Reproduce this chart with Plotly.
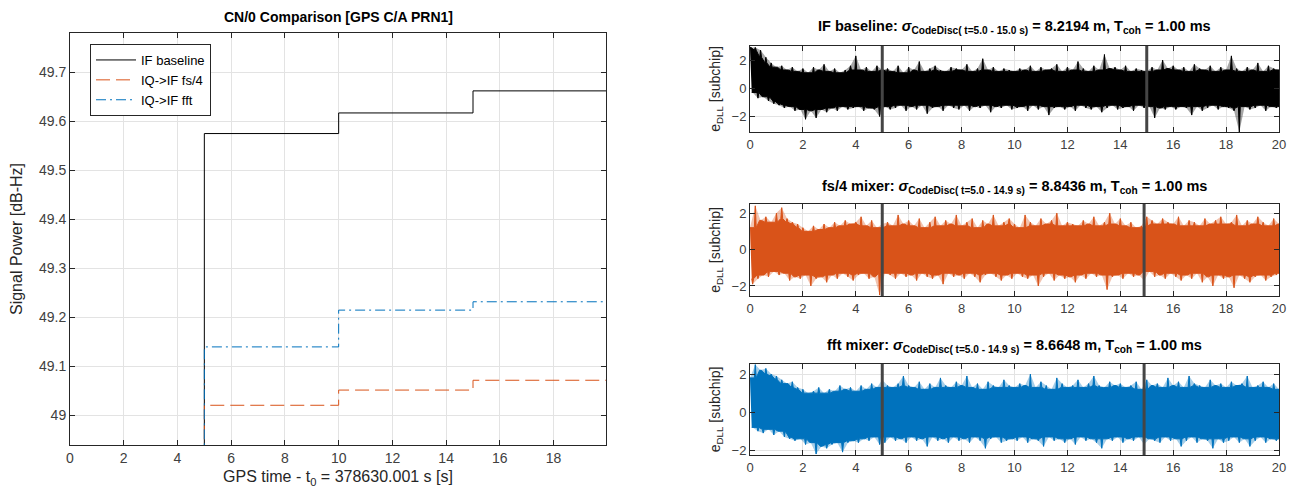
import numpy as np
import plotly.graph_objects as go

FONT = "Liberation Sans, Arial, Helvetica, sans-serif"

# ---------------- CN/0 comparison (left panel) ----------------
cn0_time = [0, 5, 10, 15, 20]
cn0_if_baseline = [0.0, 49.575, 49.617, 49.662, 49.662]
cn0_iq_fs4 = [0.0, 49.021, 49.052, 49.072, 49.072]
cn0_iq_fft = [0.0, 49.140, 49.215, 49.232, 49.232]
cn0_ticks = [49, 49.1, 49.2, 49.3, 49.4, 49.5, 49.6, 49.7]
cn0_ticktext = ["49", "49.1", "49.2", "49.3", "49.4", "49.5", "49.6", "49.7"]

# ---------------- DLL error envelopes (right panels), 0.2 s grid ----------------
dll_time = np.round(np.arange(101) * 0.2, 1)

if_upper = [2.9, 2.9, 2.7, 2.2, 1.8, 1.5, 1.6, 1.3, 1.5, 1.2,
            1.4, 1.1, 1.5, 1.3, 1.7, 1.2, 1.4, 1.1, 1.3, 1.6,
            2.3, 1.3, 1.5, 1.2, 1.6, 1.3, 1.4, 1.2, 1.6, 1.1,
            1.5, 1.3, 1.9, 1.2, 1.4, 1.6, 1.3, 1.2, 1.5, 1.4,
            1.3, 1.7, 1.2, 1.4, 2.1, 1.3, 1.5, 1.2, 1.4, 1.3,
            1.2, 1.4, 1.3, 1.6, 1.2, 1.5, 1.3, 1.4, 1.7, 1.2,
            1.5, 1.3, 1.9, 1.4, 1.2, 1.6, 1.3, 2.4, 1.4, 1.5,
            1.3, 1.6, 1.2, 1.4, 1.3, 1.2, 1.5, 1.3, 2.0, 1.4,
            1.6, 1.3, 1.5, 1.2, 1.7, 1.4, 1.3, 1.6, 1.2, 1.5,
            1.3, 2.3, 1.4, 1.2, 1.5, 1.3, 1.8, 1.2, 1.6, 1.4,
            1.3]
if_lower = [-0.3, -0.7, -0.6, -0.9, -1.1, -1.2, -1.4, -1.3, -1.6, -1.5,
            -2.2, -1.6, -2.1, -1.5, -1.7, -1.4, -1.6, -1.3, -1.5, -1.4,
            -1.3, -1.6, -1.4, -1.5, -2.0, -1.3, -1.5, -1.4, -1.2, -1.6,
            -1.3, -1.5, -1.2, -1.8, -1.4, -1.3, -1.6, -1.2, -1.4, -1.5,
            -1.2, -1.6, -1.3, -1.4, -1.2, -1.7, -1.3, -1.4, -1.2, -1.5,
            -1.4, -1.3, -1.6, -1.2, -1.5, -1.3, -1.9, -1.4, -1.3, -1.5,
            -1.3, -1.6, -1.2, -1.4, -1.5, -1.3, -1.7, -1.4, -1.2, -1.5,
            -1.4, -1.3, -1.6, -1.2, -1.4, -1.3, -2.1, -1.4, -1.5, -1.3,
            -1.5, -1.3, -1.4, -1.9, -1.3, -1.6, -1.4, -1.2, -1.5, -1.3,
            -1.4, -1.6, -3.1, -1.3, -1.5, -1.4, -1.2, -1.6, -1.3, -1.4,
            -1.3]

fs4_upper = [1.2, 2.4, 1.6, 1.8, 1.5, 2.0, 2.3, 1.7, 1.5, 1.4,
             1.2, 1.0, 1.3, 1.1, 1.4, 1.2, 1.5, 1.3, 1.6, 1.4,
             1.5, 1.8, 1.3, 1.6, 1.2, 1.4, 1.5, 1.3, 1.9, 1.4,
             1.6, 1.3, 1.7, 1.2, 1.5, 1.8, 1.3, 1.6, 1.4, 1.9,
             1.3, 1.5, 1.7, 1.2, 1.6, 1.4, 1.9, 1.3, 1.5, 1.7,
             1.4, 1.2, 1.9, 1.5, 1.3, 1.7, 1.4, 1.6, 2.0, 1.3,
             1.5, 1.4, 1.3, 1.6, 1.4, 1.8, 1.3, 1.5, 2.0, 1.4,
             1.7, 1.3, 1.5, 1.2, 1.3, 1.8, 1.6, 1.4, 1.7, 1.5,
             1.4, 1.8, 1.3, 1.6, 1.5, 1.3, 1.7, 1.4, 1.6, 1.8,
             1.4, 1.5, 1.9, 1.3, 1.6, 1.4, 1.8, 1.5, 1.3, 1.7,
             1.4]
fs4_lower = [-1.9, -1.6, -1.4, -1.5, -1.2, -1.4, -1.3, -1.7, -1.5, -1.6,
             -1.4, -2.0, -1.6, -1.5, -1.8, -1.4, -1.6, -1.3, -1.5, -1.7,
             -1.4, -1.3, -1.6, -1.5, -2.5, -1.3, -1.4, -1.6, -1.3, -1.5,
             -1.4, -1.7, -1.3, -1.5, -1.6, -1.4, -1.9, -1.3, -1.5, -1.4,
             -1.6, -1.3, -1.5, -1.8, -1.4, -1.3, -1.5, -1.7, -1.4, -1.6,
             -1.3, -1.5, -1.6, -1.4, -2.0, -1.5, -1.3, -1.7, -1.4, -1.6,
             -1.5, -1.8, -1.4, -1.6, -1.3, -1.5, -1.4, -2.2, -1.5, -1.4,
             -1.6, -1.3, -1.5, -1.4, -1.7, -1.2, -1.5, -1.4, -1.6, -1.3,
             -1.5, -1.7, -1.4, -1.6, -1.3, -1.8, -1.5, -2.0, -1.4, -1.6,
             -1.5, -2.1, -1.4, -1.6, -1.8, -1.5, -1.4, -1.7, -1.5, -1.4,
             -1.3]

fft_upper = [1.8, 2.5, 2.2, 2.3, 2.0, 1.9, 1.7, 1.5, 1.6, 1.3,
             1.2, 1.0, 1.1, 1.3, 1.0, 1.2, 1.1, 1.4, 1.2, 1.3,
             1.1, 1.4, 1.2, 1.5, 1.3, 1.7, 1.4, 1.3, 1.5, 1.9,
             1.4, 1.3, 1.6, 1.2, 1.5, 1.3, 1.8, 1.4, 1.3, 1.6,
             1.4, 1.9, 1.3, 1.5, 1.2, 1.6, 1.4, 1.3, 1.7, 1.4,
             1.3, 1.5, 1.4, 2.0, 1.3, 1.6, 1.4, 1.2, 1.8, 1.5,
             1.3, 1.4, 1.7, 1.3, 1.5, 1.9, 1.4, 1.3, 1.6, 1.4,
             1.5, 1.3, 1.4, 1.6, 1.2, 1.7, 1.4, 1.5, 1.3, 1.8,
             1.4, 1.6, 1.3, 1.9, 1.5, 1.4, 1.3, 1.7, 1.4, 1.5,
             1.3, 1.6, 1.4, 1.5, 1.9, 1.3, 1.4, 1.6, 1.3, 1.5,
             1.2]
fft_lower = [-0.8, -1.0, -1.1, -0.9, -1.2, -1.0, -1.3, -1.4, -1.5, -1.4,
             -1.7, -1.6, -2.2, -1.8, -1.9, -1.7, -1.6, -2.1, -1.6, -1.5,
             -1.6, -1.4, -1.5, -1.3, -1.7, -1.6, -1.3, -1.5, -1.4, -1.6,
             -1.3, -1.5, -1.4, -1.8, -1.3, -1.5, -1.4, -1.6, -1.3, -1.5,
             -1.4, -1.6, -1.3, -1.5, -1.9, -1.4, -1.3, -1.6, -1.5, -1.4,
             -1.5, -1.3, -1.6, -1.4, -1.5, -1.8, -1.3, -1.5, -1.4, -1.6,
             -1.4, -1.7, -1.3, -1.5, -1.4, -1.6, -1.9, -1.4, -1.5, -1.3,
             -1.6, -1.4, -1.5, -1.3, -1.7, -1.4, -1.5, -1.6, -1.3, -1.5,
             -1.4, -1.8, -1.5, -1.3, -1.6, -1.4, -1.5, -1.9, -1.4, -1.6,
             -1.5, -1.3, -1.6, -1.4, -1.8, -1.5, -1.3, -1.6, -1.4, -1.5,
             -1.4]

dll_windows = [[5.0, 15.0], [5.0, 14.9], [5.0, 14.9]]
dll_names = ["IF baseline", "fs/4 mixer", "fft mixer"]
dll_ranges = ["t=5.0 - 15.0 s", "t=5.0 - 14.9 s", "t=5.0 - 14.9 s"]
dll_sigma = ["8.2194", "8.8436", "8.6648"]
dll_ylims = [[-3.1, 3.0], [-2.55, 2.5], [-2.25, 2.53]]

C_BLACK = "#000000"
C_ORANGE = "#D95319"
C_BLUE = "#0072BD"
HALO = ["rgba(0,0,0,0.35)", "rgba(217,83,25,0.35)", "rgba(0,114,189,0.35)"]

# The page body has an 8px margin; the figure is sized to fit inside it.
OFF = 8
W, H = 1296 - 2 * OFF, 502 - 2 * OFF

def px_x(a, b):
    return [(a - OFF) / W, (b - OFF) / W]

def px_y(top, bottom):
    return [(H - (bottom - OFF)) / H, (H - (top - OFF)) / H]

def py(y):
    return (H - (y - OFF)) / H

def spiky_outline(t, v, upper, shift):
    """Outline with narrow spikes at each envelope sample, based on local extrema."""
    n = len(t)
    xs, ys = [], []
    for i in range(n):
        nb = v[max(i - 1, 0):min(i + 2, n)]
        base = min(nb) if upper else max(nb)
        tc = t[i] + shift
        for dx, yy in ((-0.035, base), (0.0, v[i]), (0.035, base)):
            xs.append(min(max(tc + dx, 0.0), 20.0))
            ys.append(yy)
    return xs, ys

fig = go.Figure()

# left panel
fig.add_trace(go.Scatter(x=cn0_time, y=cn0_if_baseline, mode="lines", line_shape="hv",
                         line=dict(color=C_BLACK, width=1), name="IF baseline",
                         xaxis="x", yaxis="y"))
fig.add_trace(go.Scatter(x=cn0_time, y=cn0_iq_fs4, mode="lines", line_shape="hv",
                         line=dict(color=C_ORANGE, width=1, dash="14px,6px"), name="IQ->IF fs/4",
                         xaxis="x", yaxis="y"))
fig.add_trace(go.Scatter(x=cn0_time, y=cn0_iq_fft, mode="lines", line_shape="hv",
                         line=dict(color=C_BLUE, width=1, dash="10px,4px,2px,4px"), name="IQ->IF fft",
                         xaxis="x", yaxis="y"))

# right panels
series = [(if_upper, if_lower, C_BLACK), (fs4_upper, fs4_lower, C_ORANGE), (fft_upper, fft_lower, C_BLUE)]
for k, (up, lo, col) in enumerate(series):
    t = [float(v) for v in dll_time]
    t_shift = [min(v + 0.1, 20.0) for v in t]
    fig.add_trace(go.Scatter(x=t + t_shift[::-1], y=list(up) + list(lo)[::-1], mode="lines",
                             fill="toself", fillcolor=HALO[k], line=dict(width=0),
                             showlegend=False, xaxis=f"x{k+2}", yaxis=f"y{k+2}", hoverinfo="skip"))
    ux, uy = spiky_outline(t, up, True, 0.0)
    lx, ly = spiky_outline(t, lo, False, 0.1)
    fig.add_trace(go.Scatter(x=ux + lx[::-1], y=uy + ly[::-1], mode="lines",
                             fill="toself", fillcolor=col, line=dict(color=col, width=1),
                             showlegend=False, xaxis=f"x{k+2}", yaxis=f"y{k+2}", hoverinfo="skip"))

axis_common = dict(showline=True, linecolor="#262626", linewidth=1, mirror="ticks",
                   ticks="inside", ticklen=5, tickcolor="#262626", showgrid=True,
                   gridcolor="#e3e3e3", gridwidth=1, zeroline=False, automargin=False)

left_dom_x = px_x(70, 606)
left_dom_y = px_y(33, 445)
right_dom_x = px_x(750, 1279)
right_dom_y = [px_y(46, 132), px_y(204, 296), px_y(364, 455)]

layout = dict(
    width=W, height=H, paper_bgcolor="white", plot_bgcolor="white",
    margin=dict(l=0, r=0, t=0, b=0, autoexpand=False),
    font=dict(family=FONT, color="#262626"),
    showlegend=True,
    legend=dict(x=(90 - OFF) / W, y=py(44), xanchor="left", yanchor="top",
                bgcolor="white", bordercolor="#262626", borderwidth=1,
                font=dict(family=FONT, size=13, color="#000000"),
                tracegroupgap=0, itemwidth=40),
    xaxis=dict(domain=left_dom_x, range=[0, 19.95], tickvals=list(range(0, 20, 2)),
               tickfont=dict(family=FONT, size=14, color="#404040"),
               title=dict(text="GPS time - t<sub>0</sub> = 378630.001 s [s]",
                          font=dict(family=FONT, size=16, color="#262626"), standoff=6),
               anchor="y", **axis_common),
    yaxis=dict(domain=left_dom_y, range=[48.94, 49.78], tickvals=cn0_ticks, ticktext=cn0_ticktext,
               tickfont=dict(family=FONT, size=14, color="#404040"),
               title=dict(text="Signal Power [dB-Hz]",
                          font=dict(family=FONT, size=16, color="#262626"), standoff=12),
               anchor="x", **axis_common),
)

for k in range(3):
    xa = f"xaxis{k+2}"
    ya = f"yaxis{k+2}"
    layout[xa] = dict(domain=right_dom_x, range=[0, 20], tickvals=list(range(0, 21, 2)),
                      tickfont=dict(family=FONT, size=13, color="#404040"),
                      anchor=f"y{k+2}", **axis_common)
    layout[ya] = dict(domain=right_dom_y[k], range=dll_ylims[k], tickvals=[-2, 0, 2],
                      tickfont=dict(family=FONT, size=13, color="#404040"),
                      title=dict(text="e<sub>DLL</sub> [subchip]",
                                 font=dict(family=FONT, size=14, color="#262626"), standoff=7),
                      anchor=f"x{k+2}", **axis_common)

fig.update_layout(**layout)

annotations = [dict(text="<b>CN/0 Comparison [GPS C/A PRN1]</b>", x=(left_dom_x[0] + left_dom_x[1]) / 2,
                    y=1.0, xref="paper", yref="paper", showarrow=False, borderpad=0,
                    font=dict(family=FONT, size=14, color="#000000"), xanchor="center", yanchor="top")]
title_y = [27, 187, 346]
for k in range(3):
    txt = ("<b>" + dll_names[k] + ": <i>σ</i><sub>CodeDisc( "
           + dll_ranges[k] + ")</sub> = " + dll_sigma[k]
           + " m, T<sub>coh</sub> = 1.00 ms</b>")
    annotations.append(dict(text=txt, x=(right_dom_x[0] + right_dom_x[1]) / 2,
                            y=py(title_y[k]), xref="paper", yref="paper", showarrow=False,
                            font=dict(family=FONT, size=14.5, color="#000000"),
                            xanchor="center", yanchor="middle"))
fig.update_layout(annotations=annotations)

shapes = []
for k in range(3):
    for xv in dll_windows[k]:
        shapes.append(dict(type="line", xref=f"x{k+2}", yref=f"y{k+2} domain", x0=xv, x1=xv, y0=0, y1=1,
                           line=dict(color="#454545", width=3), layer="above"))
fig.update_layout(shapes=shapes)

fig.write_html("out.html")
